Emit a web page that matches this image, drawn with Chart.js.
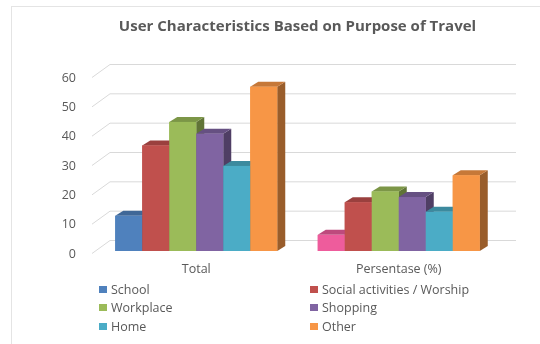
<!DOCTYPE html>
<html>
<head>
<meta charset="utf-8">
<script src="https://cdn.jsdelivr.net/npm/chart.js@4/dist/chart.umd.min.js"></script>
<style>
  html, body { margin: 0; padding: 0; background: #fff; }
  #wrap { position: relative; width: 540px; height: 344px; overflow: hidden; }
  #frame { position: absolute; left: 11px; top: 6px; right: -2px; bottom: -2px;
           border-left: 1px solid #e4e4e4; border-top: 1px solid #e4e4e4; }
  canvas { position: absolute; left: 0; top: 0; }
  #legend { position: absolute; left: 0; top: 280px; width: 540px; height: 60px;
            font-family: "Open Sans", sans-serif; font-size: 12.5px; color: #595959; }
  .item { position: absolute; display: flex; align-items: center; height: 16px; white-space: nowrap; }
  .swatch { width: 8px; height: 7px; margin-right: 4px; }
</style>
</head>
<body>
<div id="wrap">
  <div id="frame"></div>
  <canvas id="c" width="540" height="344"></canvas>
  <div id="legend"></div>
</div>
<script>
// Travel purpose survey: counts and share of respondents
const categories = ['Total', 'Persentase (%)'];
const seriesNames = ['School', 'Social activities / Worship', 'Workplace', 'Shopping', 'Home', 'Other'];
const totals = [12, 36, 44, 40, 29, 56];
const percentages = [5.5, 16.6, 20.3, 18.4, 13.4, 25.8];
const yMin = 0, yMax = 60, yStep = 10;

const seriesColors = ['#4F81BD', '#C0504D', '#9BBB59', '#8064A2', '#4BACC6', '#F79646'];
const schoolShareColor = '#EE5C9C';

function shade(hex, f) {
  const n = parseInt(hex.slice(1), 16);
  const r = Math.round(((n >> 16) & 255) * f);
  const g = Math.round(((n >> 8) & 255) * f);
  const b = Math.round((n & 255) * f);
  return 'rgb(' + r + ',' + g + ',' + b + ')';
}

const datasets = seriesNames.map((name, i) => ({
  label: name,
  data: [totals[i], percentages[i]],
  backgroundColor: i === 0 ? [seriesColors[0], schoolShareColor] : seriesColors[i],
  borderWidth: 0
}));

const DX = 8, DY = 5;

// Back-wall grid lines with a slanted floor edge
const wallGrid = {
  id: 'wallGrid',
  beforeDatasetsDraw(chart) {
    const ctx = chart.ctx, y = chart.scales.y, area = chart.chartArea;
    ctx.save();
    ctx.strokeStyle = '#d9d9d9';
    ctx.lineWidth = 1;
    y.ticks.forEach(t => {
      const py = y.getPixelForValue(t.value);
      ctx.beginPath();
      ctx.moveTo(area.left - 3, py + 2.5);
      ctx.lineTo(area.left + 15, py - 10.5);
      ctx.lineTo(area.right + 16, py - 10.5);
      ctx.stroke();
    });
    ctx.restore();
  }
};

// Extruded bars: side and top faces, painted left to right
const extrude = {
  id: 'extrude',
  afterDatasetsDraw(chart) {
    const ctx = chart.ctx;
    ctx.save();
    for (let c = 0; c < categories.length; c++) {
      for (let d = 0; d < chart.data.datasets.length; d++) {
        const meta = chart.getDatasetMeta(d);
        const bar = meta.data[c];
        if (!bar) continue;
        const p = bar.getProps(['x', 'y', 'base', 'width'], true);
        const l = p.x - p.width / 2, r = p.x + p.width / 2, t = p.y, b = p.base;
        const ds = chart.data.datasets[d];
        const col = Array.isArray(ds.backgroundColor) ? ds.backgroundColor[c] : ds.backgroundColor;
        // side
        ctx.fillStyle = shade(col, 0.62);
        ctx.beginPath();
        ctx.moveTo(r, t); ctx.lineTo(r + DX, t - DY); ctx.lineTo(r + DX, b - DY); ctx.lineTo(r, b);
        ctx.closePath(); ctx.fill();
        // top
        ctx.fillStyle = shade(col, 0.8);
        ctx.beginPath();
        ctx.moveTo(l, t); ctx.lineTo(l + DX, t - DY); ctx.lineTo(r + DX, t - DY); ctx.lineTo(r, t);
        ctx.closePath(); ctx.fill();
        // front
        ctx.fillStyle = col;
        ctx.fillRect(l, t, r - l, b - t);
      }
    }
    ctx.restore();
  }
};

const chart = new Chart(document.getElementById('c'), {
  type: 'bar',
  data: { labels: categories, datasets },
  plugins: [wallGrid, extrude],
  options: {
    responsive: false,
    animation: false,
    devicePixelRatio: 1,
    layout: { padding: { left: 0, right: 40, top: 0, bottom: 60 } },
    datasets: { bar: { categoryPercentage: 0.8, barPercentage: 1 } },
    plugins: {
      legend: { display: false },
      tooltip: { enabled: false },
      title: {
        display: true,
        text: 'User Characteristics Based on Purpose of Travel',
        fullSize: false,
        color: '#595959',
        font: { family: 'Open Sans', size: 15, weight: 'bold', lineHeight: 1.2 },
        padding: { top: 18, bottom: 39 }
      }
    },
    scales: {
      x: {
        grid: { display: false, drawTicks: false },
        border: { display: false },
        ticks: { color: '#595959', padding: 11, font: { family: 'Open Sans', size: 12.5 } },
        afterFit(s) { s.height = 33; }
      },
      y: {
        min: yMin, max: yMax,
        grid: { display: false, drawTicks: false },
        border: { display: false },
        ticks: { stepSize: yStep, color: '#595959', padding: 19, labelOffset: 3,
                 font: { family: 'Open Sans', size: 12.5 } },
        afterFit(s) { s.width = 95; }
      }
    }
  }
});

// Two-column legend under the plot
const legendEl = document.getElementById('legend');
const colX = [99, 310];
const rowY = [1, 19.5, 38];
seriesNames.forEach((name, i) => {
  const item = document.createElement('div');
  item.className = 'item';
  item.style.left = colX[i % 2] + 'px';
  item.style.top = rowY[Math.floor(i / 2)] + 'px';
  const sw = document.createElement('span');
  sw.className = 'swatch';
  sw.style.background = seriesColors[i];
  const tx = document.createElement('span');
  tx.textContent = name;
  item.appendChild(sw); item.appendChild(tx);
  legendEl.appendChild(item);
});
</script>
</body>
</html>
